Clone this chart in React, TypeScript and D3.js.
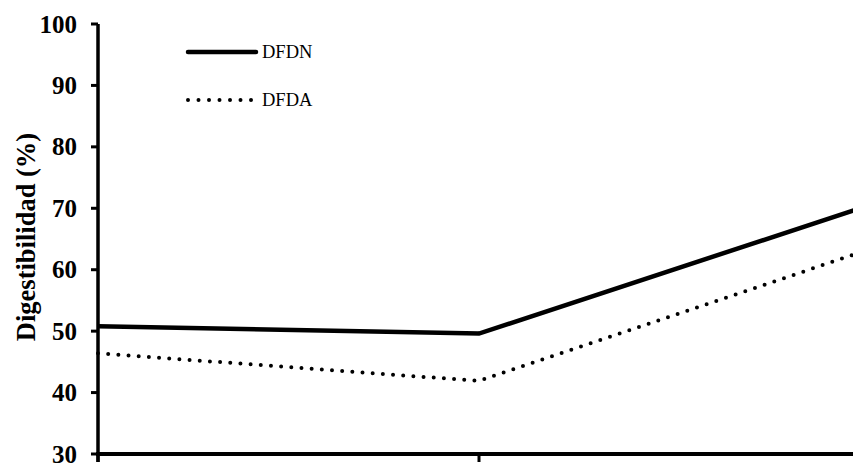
import React from "react";
import * as d3 from "d3";

const categories = ["C1", "C2", "C3"];
const dfdn = [50.8, 49.6, 70.0];
const dfda = [46.4, 41.9, 62.8];
const yTicks = [30, 40, 50, 60, 70, 80, 90, 100];
const seriesNames = ["DFDN", "DFDA"];

const W = 853;
const H = 466;

export default function App() {
  const x = d3.scalePoint<string>().domain(categories).range([98, 860]);
  const y = d3.scaleLinear().domain([30, 100]).range([454, 24]);
  const line = d3
    .line<number>()
    .x((_, i) => x(categories[i]) as number)
    .y((d) => y(d));
  const font = "Liberation Serif, Times New Roman, Times, serif";
  return (
    <svg
      width={W}
      height={H}
      style={{ position: "absolute", left: 0, top: 0, background: "#fff", fontFamily: font }}
    >
      {/* y axis */}
      <line x1={98} x2={98} y1={y(100)} y2={y(30) + 8} stroke="#000" strokeWidth={3.5} />
      {yTicks.map((t) => (
        <g key={t}>
          <line x1={91} x2={98} y1={y(t)} y2={y(t)} stroke="#000" strokeWidth={3} />
          <text
            x={77}
            y={y(t)}
            dy="0.34em"
            textAnchor="end"
            style={{ fontFamily: font, fontWeight: "bold", fontSize: 25 }}
          >
            {t}
          </text>
        </g>
      ))}
      {/* x axis */}
      <line x1={96} x2={W} y1={y(30)} y2={y(30)} stroke="#000" strokeWidth={4} />
      {categories.map((c) => (
        <line
          key={c}
          x1={x(c) as number}
          x2={x(c) as number}
          y1={y(30)}
          y2={y(30) + 8}
          stroke="#000"
          strokeWidth={3}
        />
      ))}
      {/* y title */}
      <text
        transform={`translate(26,237) rotate(-90)`}
        textAnchor="middle"
        dy="0.35em"
        style={{ fontFamily: font, fontWeight: "bold", fontSize: 26.5 }}
      >
        Digestibilidad (%)
      </text>
      {/* series */}
      <path d={line(dfdn) || ""} fill="none" stroke="#000" strokeWidth={4.5} />
      <path
        d={line(dfda) || ""}
        fill="none"
        stroke="#000"
        strokeWidth={4}
        strokeLinecap="round"
        strokeDasharray="0 10.2"
      />
      {/* legend */}
      <line x1={188} x2={256} y1={52} y2={52} stroke="#000" strokeWidth={4.5} strokeLinecap="round" />
      <text x={262} y={52} dy="0.33em" style={{ fontFamily: font, fontSize: 18.5 }}>
        {seriesNames[0]}
      </text>
      <line
        x1={188}
        x2={252}
        y1={100}
        y2={100}
        stroke="#000"
        strokeWidth={4}
        strokeLinecap="round"
        strokeDasharray="0 10.5"
      />
      <text x={262} y={100} dy="0.33em" style={{ fontFamily: font, fontSize: 18.5 }}>
        {seriesNames[1]}
      </text>
    </svg>
  );
}
